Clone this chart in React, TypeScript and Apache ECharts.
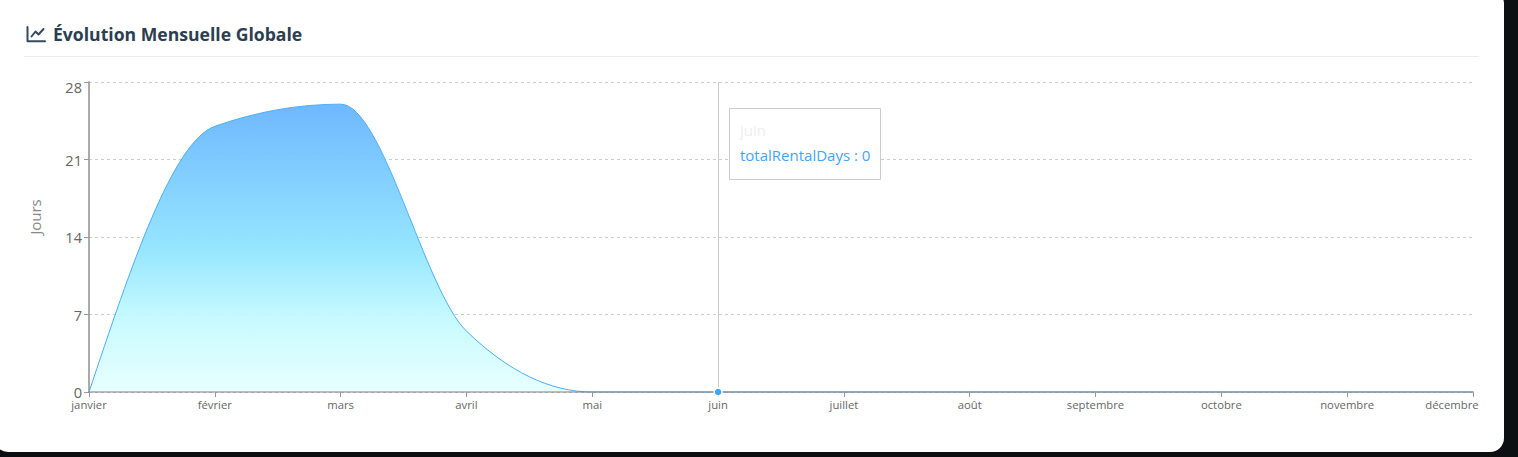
import React, { useEffect, useRef } from "react";
import * as echarts from "echarts";

const months = ["janvier", "février", "mars", "avril", "mai", "juin", "juillet", "août", "septembre", "octobre", "novembre", "décembre"];
const totalRentalDays = [0, 24, 26, 5.5, 0, 0, 0, 0, 0, 0, 0, 0];
const activeMonth = "juin";
const titleText = "Évolution Mensuelle Globale";
const yAxisName = "Jours";
const seriesName = "totalRentalDays";
const FONT = "'Open Sans', sans-serif";

// Monotone cubic curve (monotone in x), built from points already projected by the axes.
function monotoneSegments(p: number[][]) {
  const n = p.length;
  const h: number[] = [];
  const s: number[] = [];
  for (let i = 0; i < n - 1; i++) {
    h[i] = p[i + 1][0] - p[i][0];
    s[i] = (p[i + 1][1] - p[i][1]) / h[i];
  }
  const t: number[] = new Array(n).fill(0);
  for (let i = 1; i < n - 1; i++) {
    const q = (s[i - 1] * h[i] + s[i] * h[i - 1]) / (h[i - 1] + h[i]);
    t[i] = (Math.sign(s[i - 1]) + Math.sign(s[i])) * Math.min(Math.abs(s[i - 1]), Math.abs(s[i]), 0.5 * Math.abs(q)) || 0;
  }
  t[0] = (3 * s[0] - t[1]) / 2;
  t[n - 1] = (3 * s[n - 2] - t[n - 2]) / 2;
  const segs: number[][] = [];
  for (let i = 0; i < n - 1; i++) {
    const d = h[i] / 3;
    segs.push([p[i][0] + d, p[i][1] + d * t[i], p[i + 1][0] - d, p[i + 1][1] - d * t[i + 1], p[i + 1][0], p[i + 1][1]]);
  }
  return segs;
}

echarts.graphic.registerShape(
  "monotoneCurve",
  echarts.graphic.extendShape({
    shape: { points: [] as number[][], baseY: 0, closed: false },
    buildPath(ctx: any, shape: any) {
      const pts: number[][] = shape.points;
      if (!pts.length) return;
      ctx.moveTo(pts[0][0], pts[0][1]);
      for (const c of monotoneSegments(pts)) ctx.bezierCurveTo(c[0], c[1], c[2], c[3], c[4], c[5]);
      if (shape.closed) {
        ctx.lineTo(pts[pts.length - 1][0], shape.baseY);
        ctx.lineTo(pts[0][0], shape.baseY);
        ctx.closePath();
      }
    },
  }),
);

export default function App() {
  const ref = useRef<HTMLDivElement>(null);
  useEffect(() => {
    document.body.style.margin = "0";
    document.body.style.background = "#0b0f12";
    document.body.style.overflow = "hidden";
    const chart = echarts.init(ref.current!, undefined, { renderer: "svg" });
    const activeIndex = months.indexOf(activeMonth);
    const renderItem = (params: any, api: any) => {
      if (params.dataIndex !== 0) return null;
      const pts = totalRentalDays.map((v, i) => api.coord([i, v]));
      const baseY = api.coord([0, 0])[1];
      return {
        type: "group",
        children: [
          {
            type: "monotoneCurve",
            shape: { points: pts, baseY, closed: true },
            style: {
              opacity: 0.94,
              fill: new echarts.graphic.LinearGradient(0, 0, 0, 1, [
                { offset: 0, color: "#66b3ff" },
                { offset: 0.5, color: "#8fe4ff" },
                { offset: 0.75, color: "#c4faff" },
                { offset: 1, color: "#e6ffff" },
              ]),
              stroke: "none",
            },
          },
          {
            type: "monotoneCurve",
            shape: { points: pts, baseY, closed: false },
            style: { fill: "none", stroke: "#4aaeff", lineWidth: 1 },
          },
        ],
      };
    };
    chart.setOption({
      animation: false,
      backgroundColor: "#0b0f12",
      textStyle: { fontFamily: FONT },
      grid: { left: 89, right: 45, top: 82, bottom: 65, containLabel: false },
      xAxis: {
        type: "category",
        data: months,
        boundaryGap: false,
        z: 7,
        axisLine: { lineStyle: { color: "rgba(125,125,125,0.5)", width: 2 } },
        axisTick: { show: true, length: 5, lineStyle: { color: "#999" }, alignWithLabel: true },
        axisLabel: {
          interval: 0,
          color: "#666",
          fontSize: 11.3,
          fontFamily: FONT,
          margin: 7,
          alignMaxLabel: "center",
          formatter: (v: string) => (v === months[months.length - 1] ? `{last|${v}}` : v),
          rich: { last: { color: "#666", fontSize: 11.3, fontFamily: FONT, padding: [0, 42, 0, 0] } },
        },
        splitLine: { show: false },
      },
      yAxis: {
        type: "value",
        min: 0,
        max: 28,
        interval: 7,
        name: yAxisName,
        nameLocation: "middle",
        nameRotate: 90,
        nameGap: 47,
        nameTextStyle: { color: "#888", fontSize: 15, fontFamily: FONT, padding: [0, 0, 0, 40] },
        axisLine: { show: true, lineStyle: { color: "#aaa", width: 2 } },
        axisTick: { show: true, length: 5, lineStyle: { color: "#999" } },
        axisLabel: { color: "#666", fontSize: 14.6, fontFamily: FONT, margin: 7, lineHeight: 10, verticalAlignMaxLabel: "top" },
        splitLine: { show: true, lineStyle: { color: "#ccc", type: [3, 3], width: 1 } },
      },
      series: [
        {
          name: seriesName,
          type: "custom",
          z: 6,
          clip: false,
          renderItem,
          encode: { x: 0, y: 1 },
          data: totalRentalDays.map((v, i) => [i, v]),
          markLine: {
            silent: true,
            symbol: "none",
            z: 3,
            label: { show: false },
            lineStyle: { color: "#ccc", type: "solid", width: 1 },
            data: [{ xAxis: activeMonth }],
          },
          markPoint: {
            silent: true,
            z: 9,
            symbol: "circle",
            symbolSize: 8,
            label: { show: false },
            itemStyle: { color: "#3fa4ff", borderColor: "#fff", borderWidth: 1.5 },
            data: [{ coord: [activeMonth, totalRentalDays[activeIndex]] }],
          },
        },
      ],
      graphic: [
        { type: "rect", z: -10, silent: true, shape: { x: -6, y: -10, width: 1510, height: 462, r: 14 }, style: { fill: "#fff" } },
        { type: "line", z: 1, shape: { x1: 24, y1: 56.5, x2: 1479, y2: 56.5 }, style: { stroke: "#ececec", lineWidth: 1 } },
        { type: "polyline", z: 5, shape: { points: [[27.5, 27], [27.5, 41.3], [45, 41.3]] }, style: { stroke: "#34495e", lineWidth: 2, fill: "none", lineCap: "round", lineJoin: "round" } },
        { type: "polyline", z: 5, shape: { points: [[31.5, 36.5], [35.5, 31.5], [38.5, 34.5], [43.5, 29]] }, style: { stroke: "#34495e", lineWidth: 2, fill: "none", lineCap: "round", lineJoin: "round" } },
        { type: "text", z: 5, x: 53, y: 34, style: { text: titleText, fill: "#2c3e50", font: `700 17.6px ${FONT}`, verticalAlign: "middle" } },
        { type: "rect", z: 100, shape: { x: 729.5, y: 108.5, width: 151, height: 71 }, style: { fill: "#fff", stroke: "#ccc", lineWidth: 1 } },
        { type: "text", z: 101, x: 740, y: 130, style: { text: activeMonth, fill: "#eee", font: `15px ${FONT}`, verticalAlign: "middle" } },
        { type: "text", z: 101, x: 740, y: 155, style: { text: `${seriesName} : ${totalRentalDays[activeIndex]}`, fill: "#42a5ff", font: `15px ${FONT}`, verticalAlign: "middle" } },
      ],
    });
    return () => chart.dispose();
  }, []);
  return <div ref={ref} style={{ width: 1518, height: 457 }} />;
}
